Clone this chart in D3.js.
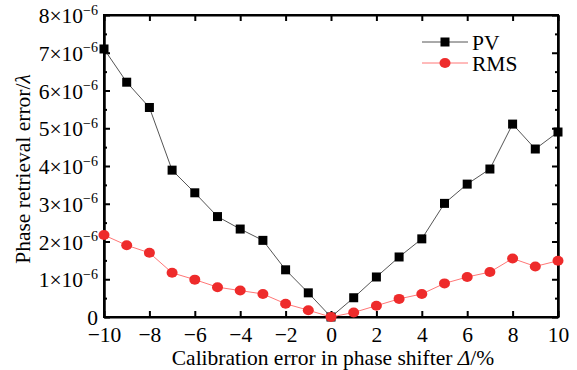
<!DOCTYPE html>
<html>
<head>
<meta charset="utf-8">
<script src="https://cdn.jsdelivr.net/npm/d3@7"></script>
<style>
  body { margin: 0; background: #fff; }
  svg text { font-family: "Liberation Serif", "Times New Roman", serif; fill: #000; }
</style>
</head>
<body>
<svg id="chart" width="577" height="370"></svg>
<script>
// Data (y values in units of 1e-6 λ)
const xValues = [-10, -9, -8, -7, -6, -5, -4, -3, -2, -1, 0, 1, 2, 3, 4, 5, 6, 7, 8, 9, 10];
const pvValues = [7.10, 6.22, 5.55, 3.89, 3.29, 2.66, 2.33, 2.03, 1.25, 0.64, 0.0, 0.51, 1.06, 1.59, 2.07, 3.01, 3.52, 3.92, 5.11, 4.45, 4.90];
const rmsValues = [2.17, 1.90, 1.70, 1.17, 0.99, 0.79, 0.70, 0.61, 0.35, 0.18, 0.0, 0.12, 0.30, 0.48, 0.61, 0.89, 1.06, 1.19, 1.55, 1.34, 1.49];
const xTicks = [-10, -8, -6, -4, -2, 0, 2, 4, 6, 8, 10];
const yTicks = [0, 1, 2, 3, 4, 5, 6, 7, 8];
const yMinorTicks = [0.5, 1.5, 2.5, 3.5, 4.5, 5.5, 6.5, 7.5];

const translate = (x, y) => `translate(${x}, ${y})`;

const width = 577, height = 370;
const margins = { top: 15, right: 19, bottom: 53, left: 104 };

const svg = d3.select('#chart');

const x = d3.scaleLinear().domain([-10, 10]).range([margins.left, width - margins.right]);
const y = d3.scaleLinear().domain([0, 8]).range([height - margins.bottom, margins.top]);

const fontSize = 21.5;

// Bottom axis
const xAxis = d3.axisBottom(x).tickValues(xTicks).tickSizeInner(-6).tickSizeOuter(0)
    .tickPadding(10).tickFormat(d => d < 0 ? '\u2212' + Math.abs(d) : d);
svg.append('g')
    .attr('transform', translate(0, height - margins.bottom))
    .call(xAxis)
    .call(g => g.selectAll('text').attr('font-size', fontSize).attr('font-family', null).attr('dy', '0.7em'));

// Top axis (ticks only)
svg.append('g')
    .attr('transform', translate(0, margins.top))
    .call(d3.axisTop(x).tickValues(xTicks).tickSizeInner(-6).tickSizeOuter(0).tickFormat(''));

// Left axis
const yAxis = d3.axisLeft(y).tickValues(yTicks).tickSizeInner(-6).tickSizeOuter(0).tickFormat('');
const yG = svg.append('g')
    .attr('transform', translate(margins.left, 0))
    .call(yAxis);
yG.selectAll('.tick').each(function(d) {
    const t = d3.select(this).append('text')
        .attr('x', -6)
        .attr('dy', '0.35em')
        .attr('text-anchor', 'end')
        .attr('font-size', fontSize);
    if (d === 0) {
        t.text('0');
    } else {
        t.append('tspan').text(d + '\u00d710');
        t.append('tspan').attr('font-size', 14).attr('dy', '-0.6em').text('\u22126');
    }
});
svg.append('g')
    .attr('transform', translate(margins.left, 0))
    .call(d3.axisLeft(y).tickValues(yMinorTicks).tickSizeInner(-3).tickSizeOuter(0).tickFormat(''));

// Right axis
svg.append('g')
    .attr('transform', translate(width - margins.right, 0))
    .call(d3.axisRight(y).tickValues(yTicks).tickSizeInner(-6).tickSizeOuter(0).tickFormat(''));
svg.append('g')
    .attr('transform', translate(width - margins.right, 0))
    .call(d3.axisRight(y).tickValues(yMinorTicks).tickSizeInner(-3).tickSizeOuter(0).tickFormat(''));

svg.selectAll('.domain').attr('stroke', '#000').attr('stroke-width', 2);
svg.selectAll('.tick line').attr('stroke', '#000').attr('stroke-width', 2);

// Frame
svg.append('rect')
    .attr('x', margins.left)
    .attr('y', margins.top)
    .attr('width', width - margins.left - margins.right)
    .attr('height', height - margins.top - margins.bottom)
    .attr('fill', 'none')
    .attr('stroke', '#000')
    .attr('stroke-width', 2);

// Axis titles
svg.append('text')
    .attr('x', 333)
    .attr('y', 365)
    .attr('text-anchor', 'middle')
    .attr('font-size', fontSize)
    .call(t => {
        t.append('tspan').text('Calibration error in phase shifter ');
        t.append('tspan').attr('font-style', 'italic').text('\u0394');
        t.append('tspan').text('/%');
    });

svg.append('text')
    .attr('transform', translate(30, 169) + ' rotate(-90)')
    .attr('text-anchor', 'middle')
    .attr('font-size', fontSize)
    .call(t => {
        t.append('tspan').text('Phase retrieval error/');
        t.append('tspan').attr('font-style', 'italic').text('\u03bb');
    });

// Series
const pvData = xValues.map((d, i) => ({ x: d, y: pvValues[i] }));
const rmsData = xValues.map((d, i) => ({ x: d, y: rmsValues[i] }));
const line = d3.line().x(d => x(d.x)).y(d => y(d.y));

svg.append('path').datum(pvData)
    .attr('d', line).attr('fill', 'none').attr('stroke', '#555').attr('stroke-width', 1);
svg.append('path').datum(rmsData)
    .attr('d', line).attr('fill', 'none').attr('stroke', '#f77').attr('stroke-width', 1);

const sq = 9;
svg.append('g').selectAll('rect')
    .data(pvData)
    .join('rect')
    .attr('x', d => x(d.x) - sq / 2)
    .attr('y', d => y(d.y) - sq / 2)
    .attr('width', sq)
    .attr('height', sq)
    .attr('fill', '#000');

svg.append('g').selectAll('ellipse')
    .data(rmsData)
    .join('ellipse')
    .attr('cx', d => x(d.x))
    .attr('cy', d => y(d.y))
    .attr('rx', 5.5)
    .attr('ry', 5)
    .attr('fill', '#ee2b2b');

// Legend
const legend = svg.append('g').attr('transform', translate(422, 0));
legend.append('line').attr('x1', 0).attr('x2', 46).attr('y1', 42).attr('y2', 42).attr('stroke', '#555');
legend.append('rect').attr('x', 23 - sq / 2).attr('y', 42 - sq / 2).attr('width', sq).attr('height', sq).attr('fill', '#000');
legend.append('text').attr('x', 50).attr('y', 50).attr('font-size', fontSize).text('PV');
legend.append('line').attr('x1', 0).attr('x2', 46).attr('y1', 63).attr('y2', 63).attr('stroke', '#f77');
legend.append('ellipse').attr('cx', 23).attr('cy', 63).attr('rx', 5.5).attr('ry', 5).attr('fill', '#ee2b2b');
legend.append('text').attr('x', 50).attr('y', 71).attr('font-size', fontSize).text('RMS');
</script>
</body>
</html>
